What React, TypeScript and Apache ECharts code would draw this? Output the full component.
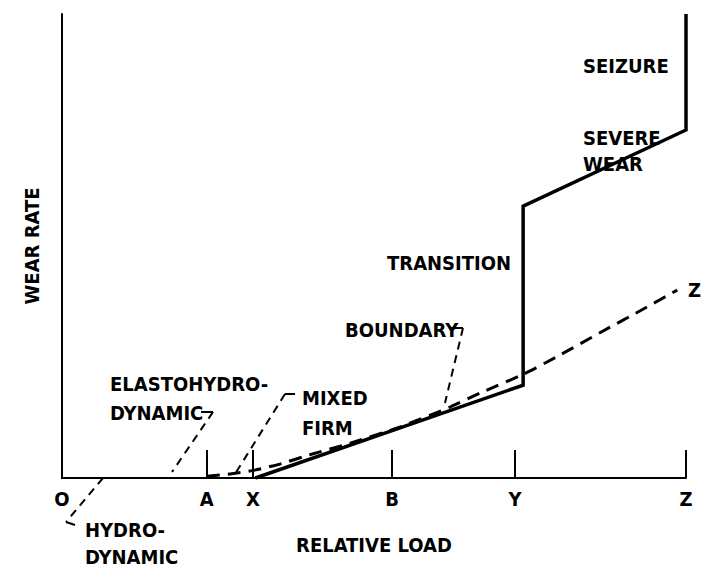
import React, { useEffect, useRef } from 'react';
import * as echarts from 'echarts';

// Axis tick positions (relative load, O = 0 … Z = 100) and their letters
const tickLabels = ['O', 'A', 'X', 'B', 'Y', 'Z'];
const tickValues = [0, 23.2, 30.6, 52.9, 72.6, 100];

// Solid curve: mixed/boundary -> transition -> severe wear -> seizure
const wearX = [31.0, 73.9, 73.9, 100, 100];
const wearY = [0, 20.0, 58.6, 75.0, 100];

// Dashed curve
const idealX = [23.2, 27.2, 30.9, 34.9, 39.7, 46.2, 54.2, 62.2, 67.0, 74.0, 79.8, 86.2, 92.6, 98.6];
const idealY = [0.4, 0.9, 1.7, 3.0, 5.0, 7.5, 11.0, 15.3, 18.3, 22.4, 26.5, 31.3, 36.0, 40.5];

const FONT = "'DejaVu Sans Condensed', 'Liberation Sans Narrow', 'DejaVu Sans', sans-serif";

const txt = (text: string, x: number, y: number, size = 20) => ({
  type: 'text',
  x,
  y,
  silent: true,
  style: {
    text,
    fill: '#000',
    fontSize: size,
    fontWeight: 'bold',
    fontFamily: FONT,
    align: 'left',
    verticalAlign: 'middle',
  },
});

const dashLine = (x1: number, y1: number, x2: number, y2: number) => ({
  type: 'line',
  silent: true,
  shape: { x1, y1, x2, y2 },
  style: { stroke: '#000', lineWidth: 2, lineDash: [8, 6] },
});

const solidLine = (x1: number, y1: number, x2: number, y2: number) => ({
  type: 'line',
  silent: true,
  shape: { x1, y1, x2, y2 },
  style: { stroke: '#000', lineWidth: 2 },
});

export default function App() {
  const ref = useRef<HTMLDivElement>(null);
  useEffect(() => {
    if (!ref.current) return;
    const chart = echarts.init(ref.current, null, { renderer: 'svg' });
    chart.setOption({
      animation: false,
      backgroundColor: '#fff',
      grid: { left: 62, top: 14, right: 16, bottom: 95 },
      xAxis: {
        type: 'value',
        min: 0,
        max: 100,
        name: 'RELATIVE LOAD',
        nameLocation: 'middle',
        nameGap: 57,
        nameTextStyle: { color: '#000', fontSize: 20, fontWeight: 'bold', fontFamily: FONT },
        axisLine: { show: true, lineStyle: { color: '#000', width: 2 } },
        axisTick: {
          show: true,
          inside: true,
          length: 28,
          customValues: tickValues.slice(1),
          lineStyle: { color: '#000', width: 2 },
        },
        axisLabel: {
          show: true,
          customValues: tickValues,
          margin: 11,
          color: '#000',
          fontSize: 20,
          fontWeight: 'bold',
          fontFamily: FONT,
          formatter: (v: number) => {
            const i = tickValues.findIndex((t) => Math.abs(t - v) < 1e-6);
            return i >= 0 ? tickLabels[i] : '';
          },
        },
        splitLine: { show: false },
      },
      yAxis: {
        type: 'value',
        min: 0,
        max: 100,
        name: 'WEAR RATE',
        nameLocation: 'middle',
        nameGap: 20,
        nameRotate: 90,
        nameTextStyle: { color: '#000', fontSize: 20, fontWeight: 'bold', fontFamily: FONT },
        axisLine: { show: true, lineStyle: { color: '#000', width: 2 } },
        axisTick: { show: false },
        axisLabel: { show: false },
        splitLine: { show: false },
      },
      series: [
        {
          type: 'line',
          name: 'wear',
          data: wearX.map((x, i) => [x, wearY[i]]),
          showSymbol: false,
          symbol: 'none',
          lineStyle: { color: '#000', width: 3.5, join: 'miter' },
          silent: true,
        },
        {
          type: 'line',
          name: 'ideal',
          data: idealX.map((x, i) => [x, idealY[i]]),
          showSymbol: false,
          symbol: 'none',
          smooth: 0.2,
          lineStyle: { color: '#000', width: 3, type: [13, 8] },
          silent: true,
        },
      ],
      graphic: [
        txt('SEIZURE', 583, 66),
        txt('SEVERE', 583, 138),
        txt('WEAR', 583, 164),
        txt('TRANSITION', 387, 263),
        txt('BOUNDARY', 345, 330),
        solidLine(450, 328, 463, 328),
        dashLine(463, 328, 445, 403),
        txt('ELASTOHYDRO-', 110, 384),
        txt('DYNAMIC', 110, 413),
        solidLine(201, 412, 213, 412),
        dashLine(213, 412, 172, 472),
        txt('MIXED', 302, 398),
        txt('FIRM', 302, 428),
        solidLine(285, 394, 295, 394),
        dashLine(285, 394, 235, 474),
        txt('HYDRO-', 85, 530),
        txt('DYNAMIC', 85, 557),
        dashLine(103, 478, 66, 522),
        solidLine(66, 522, 75, 525),
        txt('Z', 688, 290),
      ],
    });
    return () => chart.dispose();
  }, []);
  return (
    <div
      ref={ref}
      style={{ position: 'fixed', left: 0, top: 0, width: 702, height: 573, background: '#fff' }}
    />
  );
}
